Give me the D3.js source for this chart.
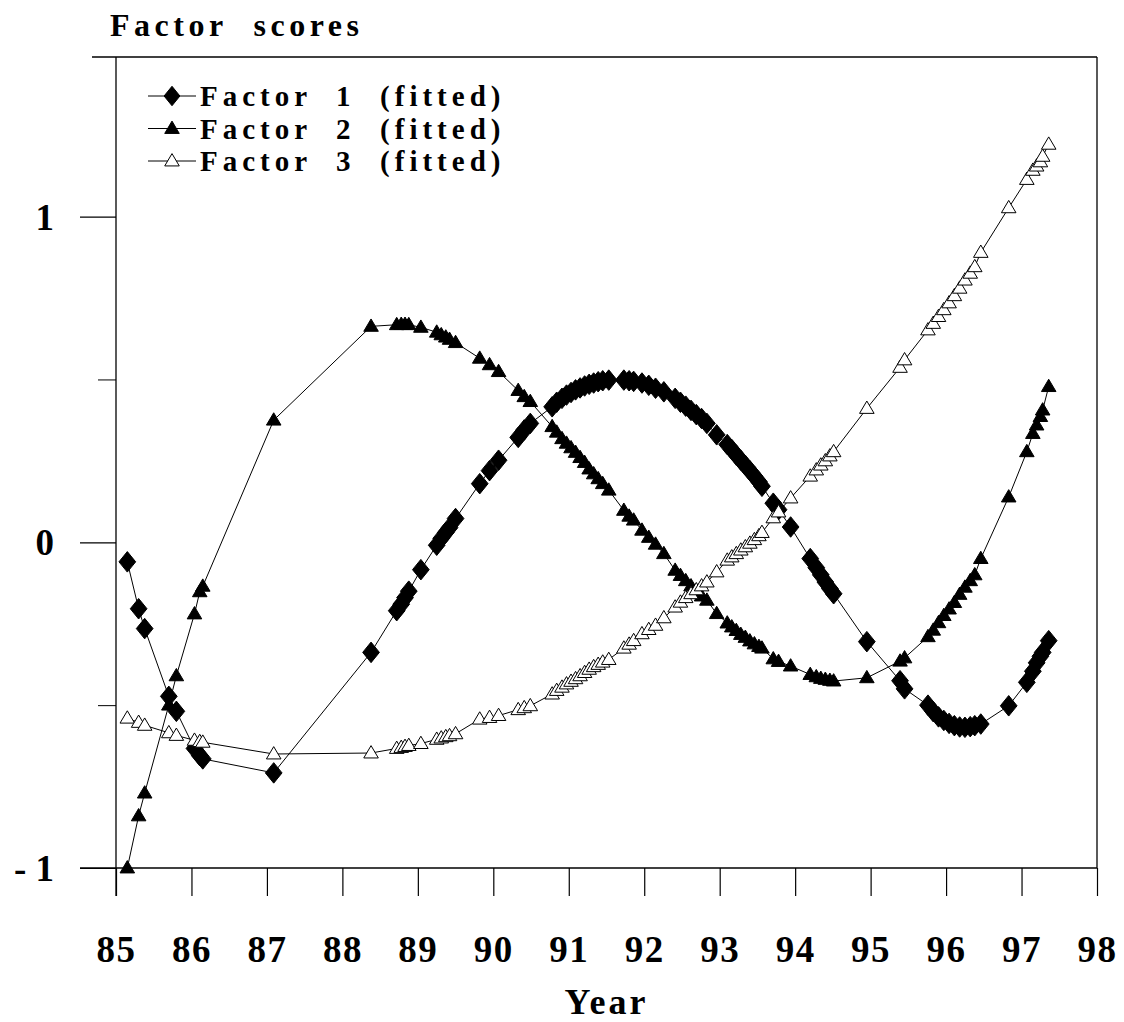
<!DOCTYPE html>
<html>
<head>
<meta charset="utf-8">
<script src="https://cdn.jsdelivr.net/npm/d3@7"></script>
<style>
  body { margin: 0; background: #fff; }
  svg text { font-family: "Liberation Serif", "Times New Roman", serif; font-weight: bold; fill: #000; }
</style>
</head>
<body>
<div id="chart"></div>
<script>
//Observation dates (year, shared by the three fitted factors)
var years = [
  85.15, 85.30, 85.38, 85.70, 85.80, 86.04, 86.11, 86.15, 87.09,
  88.38, 88.72, 88.78, 88.83, 88.88, 89.04, 89.25, 89.31, 89.37, 89.42, 89.50,
  89.82, 89.95, 90.07, 90.33, 90.41, 90.49,
  90.78, 90.84, 90.91, 90.97, 91.03, 91.09, 91.15, 91.21, 91.27, 91.33, 91.39, 91.45, 91.53,
  91.73, 91.80, 91.86, 91.97, 92.06, 92.15, 92.26,
  92.41, 92.48, 92.55, 92.62, 92.69, 92.76, 92.83,
  92.96, 93.10, 93.16, 93.22, 93.28, 93.34, 93.40, 93.46, 93.52, 93.56,
  93.71, 93.78, 93.94, 94.20, 94.28, 94.34, 94.40, 94.46, 94.51,
  94.95, 95.39, 95.45,
  95.76, 95.83, 95.90, 95.97, 96.04, 96.11, 96.18, 96.25, 96.32, 96.38, 96.46,
  96.83, 97.07, 97.15, 97.20, 97.25, 97.28, 97.36
];

var factor1 = [
  -0.06, -0.204, -0.265, -0.473, -0.519, -0.633, -0.655, -0.665, -0.708,
  -0.338, -0.21, -0.19, -0.17, -0.15, -0.084, -0.009, 0.012, 0.03, 0.045, 0.073,
  0.18, 0.22, 0.252, 0.322, 0.345, 0.365,
  0.416, 0.43, 0.442, 0.452, 0.46, 0.468, 0.474, 0.48, 0.485, 0.489, 0.493, 0.496, 0.498,
  0.498, 0.496, 0.494, 0.489, 0.482, 0.473, 0.462,
  0.442, 0.43, 0.418, 0.405, 0.392, 0.38, 0.365,
  0.33, 0.30, 0.285, 0.268, 0.252, 0.236, 0.22, 0.203, 0.186, 0.172,
  0.12, 0.10, 0.047, -0.05, -0.078, -0.10, -0.122, -0.142, -0.158,
  -0.305, -0.425, -0.45,
  -0.50, -0.52, -0.536, -0.547, -0.556, -0.563, -0.567, -0.568, -0.566, -0.563, -0.558,
  -0.502, -0.43, -0.396, -0.37, -0.35, -0.338, -0.302
];

var factor2 = [
  -1.00, -0.84, -0.77, -0.50, -0.41, -0.22, -0.152, -0.135, 0.375,
  0.663, 0.668, 0.669, 0.669, 0.668, 0.660, 0.645, 0.637, 0.630, 0.623, 0.613,
  0.565, 0.545, 0.524, 0.466, 0.447, 0.432,
  0.355, 0.338, 0.318, 0.304, 0.29, 0.276, 0.26, 0.245, 0.225, 0.21, 0.195, 0.18, 0.16,
  0.098, 0.08, 0.068, 0.037, 0.015, -0.006, -0.035,
  -0.086, -0.102, -0.118, -0.134, -0.15, -0.165, -0.178,
  -0.219, -0.248, -0.26, -0.271, -0.283, -0.292, -0.303, -0.312, -0.32, -0.325,
  -0.358, -0.366, -0.38, -0.406, -0.413, -0.418, -0.421, -0.424, -0.426,
  -0.416, -0.365, -0.355,
  -0.29, -0.27, -0.247, -0.225, -0.205, -0.185, -0.16, -0.138, -0.118, -0.10, -0.05,
  0.139, 0.278, 0.334, 0.36, 0.386, 0.406, 0.478
];

var factor3 = [
  -0.54, -0.553, -0.562, -0.585, -0.593, -0.608, -0.612, -0.614, -0.65,
  -0.647, -0.633, -0.630, -0.627, -0.624, -0.618, -0.605, -0.601, -0.597, -0.594, -0.588,
  -0.543, -0.538, -0.532, -0.514, -0.508, -0.502,
  -0.466, -0.455, -0.445, -0.435, -0.427, -0.419, -0.41, -0.40, -0.39, -0.382, -0.375, -0.368, -0.36,
  -0.325, -0.313, -0.302, -0.281, -0.268, -0.255, -0.232,
  -0.199, -0.184, -0.17, -0.158, -0.146, -0.134, -0.122,
  -0.091, -0.055, -0.045, -0.035, -0.024, -0.014, -0.003, 0.008, 0.02, 0.03,
  0.075, 0.093, 0.136, 0.203, 0.222, 0.237, 0.25, 0.265, 0.278,
  0.411, 0.537, 0.56,
  0.652, 0.672, 0.693, 0.714, 0.735, 0.757, 0.78, 0.805, 0.826, 0.846, 0.89,
  1.027, 1.114, 1.142, 1.155, 1.168, 1.185, 1.222
];

var seriesNames = ["Factor  1  (fitted)", "Factor  2  (fitted)", "Factor  3  (fitted)"];
var xTicks = d3.range(85, 99);
var yTicksMajor = [-1, 0, 1];
var yTicksMinor = [-0.5, 0.5];

///////////////////////////////////////////////////////////////////////////
///////////////////////////// Set up svg //////////////////////////////////
///////////////////////////////////////////////////////////////////////////

var width = 1124,
	height = 1022,
	plotLeft = 116, plotRight = 1097,
	plotTop = 57, plotBottom = 868;

var svg = d3.select("#chart").append("svg")
	.attr("width", width)
	.attr("height", height);

var x = d3.scaleLinear().domain([85, 98]).range([plotLeft, plotRight]);
var y = d3.scaleLinear().domain([-1, 1.49]).range([plotBottom, plotTop]);

//Marker shapes
function diamond(s) {
	var w = s * 0.44, h = s * 0.54;
	return "M0," + (-h) + "L" + w + ",0L0," + h + "L" + (-w) + ",0Z";
}
function triangle(s) {
	var w = s * 0.52, h = s * 0.88;
	return "M0," + (-h * 0.6) + "L" + w + "," + (h * 0.4) + "L" + (-w) + "," + (h * 0.4) + "Z";
}

var markers = [
	{path: diamond, fill: "#000", size: 19, legendSize: 18},
	{path: triangle, fill: "#000", size: 14, legendSize: 14},
	{path: triangle, fill: "#fff", size: 14, legendSize: 14}
];

///////////////////////////////////////////////////////////////////////////
////////////////////////////// Axes ///////////////////////////////////////
///////////////////////////////////////////////////////////////////////////

var xAxis = svg.append("g")
	.attr("transform", "translate(0," + plotBottom + ")")
	.call(d3.axisBottom(x).tickValues(xTicks).tickSize(28).tickFormat(d3.format("d")));
xAxis.select(".domain").remove();
xAxis.selectAll("line").attr("stroke", "#000").attr("stroke-width", 1.2);
xAxis.selectAll("text")
	.attr("y", 94).attr("dy", 0)
	.style("font-size", "37px")
	.style("letter-spacing", "1.5px");

var yAxis = svg.append("g")
	.attr("transform", "translate(" + plotLeft + ",0)")
	.call(d3.axisLeft(y).tickValues(yTicksMajor).tickSize(36).tickPadding(0).tickFormat(d3.format("d")));
yAxis.select(".domain").remove();
yAxis.selectAll("line").attr("stroke", "#000").attr("stroke-width", 1.2);
yAxis.selectAll("text")
	.attr("x", -62).attr("dy", "0.34em")
	.style("font-size", "37px")
	.text(function(d) { return d < 0 ? "- " + Math.abs(d) : d; });

var yMinor = svg.append("g")
	.attr("transform", "translate(" + plotLeft + ",0)")
	.call(d3.axisLeft(y).tickValues(yTicksMinor).tickSize(18).tickFormat(""));
yMinor.select(".domain").remove();
yMinor.selectAll("line").attr("stroke", "#000").attr("stroke-width", 1);

//Frame
var frame = svg.append("g").attr("stroke", "#000").attr("stroke-width", 1.3);
frame.append("line").attr("x1", plotLeft - 24).attr("x2", plotRight).attr("y1", plotTop).attr("y2", plotTop);
frame.append("line").attr("x1", plotLeft).attr("x2", plotLeft).attr("y1", plotTop).attr("y2", plotBottom + 28);
frame.append("line").attr("x1", plotRight).attr("x2", plotRight).attr("y1", plotTop).attr("y2", plotBottom);
frame.append("line").attr("x1", plotLeft - 36).attr("x2", plotRight).attr("y1", plotBottom).attr("y2", plotBottom);

//Titles
svg.append("text")
	.attr("x", 110).attr("y", 36)
	.style("font-size", "32px")
	.style("letter-spacing", "4.5px")
	.style("word-spacing", "14px")
	.text("Factor scores");

svg.append("text")
	.attr("x", (plotLeft + plotRight) / 2).attr("y", 1014)
	.attr("text-anchor", "middle")
	.style("font-size", "36px")
	.style("letter-spacing", "3px")
	.text("Year");

///////////////////////////////////////////////////////////////////////////
////////////////////////////// Series /////////////////////////////////////
///////////////////////////////////////////////////////////////////////////

var allSeries = [factor1, factor2, factor3];
var line = d3.line()
	.x(function(d) { return x(d[0]); })
	.y(function(d) { return y(d[1]); });

var order = [1, 0, 2];
order.forEach(function(i) {
	var pts = years.map(function(yr, j) { return [yr, allSeries[i][j]]; });
	var g = svg.append("g").attr("class", "series series" + (i + 1));
	g.append("path")
		.datum(pts)
		.attr("d", line)
		.attr("fill", "none")
		.attr("stroke", "#000")
		.attr("stroke-width", 1);
	g.selectAll("path.marker")
		.data(pts).enter().append("path")
		.attr("class", "marker")
		.attr("transform", function(d) { return "translate(" + x(d[0]) + "," + y(d[1]) + ")"; })
		.attr("d", markers[i].path(markers[i].size))
		.attr("fill", markers[i].fill)
		.attr("stroke", "#000")
		.attr("stroke-width", 1);
});

///////////////////////////////////////////////////////////////////////////
////////////////////////////// Legend /////////////////////////////////////
///////////////////////////////////////////////////////////////////////////

var legend = svg.append("g").attr("class", "legend");
var legendRows = legend.selectAll("g")
	.data(seriesNames).enter().append("g")
	.attr("transform", function(d, i) { return "translate(0," + (96 + i * 32.5) + ")"; });

legendRows.append("line")
	.attr("x1", 148).attr("x2", 196)
	.attr("y1", 0).attr("y2", 0)
	.attr("stroke", "#000").attr("stroke-width", 1);
legendRows.append("path")
	.attr("transform", "translate(172,0)")
	.attr("d", function(d, i) { return markers[i].path(markers[i].legendSize); })
	.attr("fill", function(d, i) { return markers[i].fill; })
	.attr("stroke", "#000").attr("stroke-width", 1);
legendRows.append("text")
	.attr("x", 200).attr("y", 10)
	.style("font-size", "29px")
	.style("letter-spacing", "5px")
	.style("white-space", "pre")
	.attr("xml:space", "preserve")
	.text(function(d) { return d; });
</script>
</body>
</html>
